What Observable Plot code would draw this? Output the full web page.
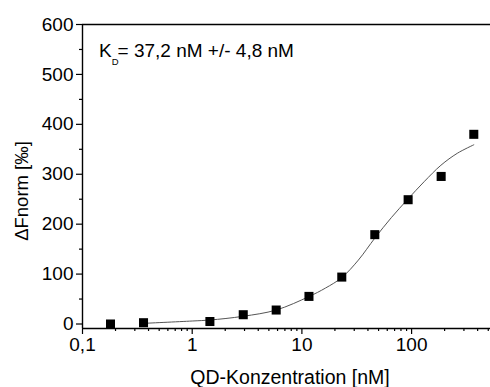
<!DOCTYPE html>
<html>
<head>
<meta charset="utf-8">
<script src="https://cdn.jsdelivr.net/npm/d3@7"></script>
<script src="https://cdn.jsdelivr.net/npm/@observablehq/plot@0.6"></script>
<style>
  html, body { margin: 0; padding: 0; background: #fff; }
  #chart svg { display: block; }
</style>
</head>
<body>
<div id="chart"></div>
<script>
// Measured data (concentration in nM, ΔFnorm in ‰)
const concentration = [0.18, 0.36, 1.45, 2.92, 5.83, 11.6, 23.1, 46.2, 93, 186, 369];
const deltaFnorm    = [0, 2.6, 5, 18.6, 28, 55.3, 94, 179, 249, 295.6, 380];

// Fit curve
const fitX = [0.36, 1, 1.45, 2.92, 5.83, 11.6, 16.4, 23.1, 32.7, 46.2, 65.3, 92.3, 130, 185, 261, 369];
const fitY = [1.3, 6, 8, 15.5, 28, 55, 72, 93, 128, 172, 213, 250, 285, 318, 342, 359];

// Axes
const xDomain = [0.1, 524];
const yDomain = [-9, 600];
const xMajorTicks = [0.1, 1, 10, 100];
const xMinorTicks = [0.2, 0.3, 0.4, 0.5, 0.6, 0.7, 0.8, 0.9, 2, 3, 4, 5, 6, 7, 8, 9, 20, 30, 40, 50, 60, 70, 80, 90, 200, 300, 400, 500];
const yMajorTicks = [0, 100, 200, 300, 400, 500, 600];
const yMinorTicks = [50, 150, 250, 350, 450, 550];

const xLabel = "QD-Konzentration [nM]";
const yLabel = "ΔFnorm [‰]";
const kdMain = "K";
const kdSub = "D";
const kdRest = "= 37,2 nM +/- 4,8 nM";

const points = concentration.map((x, i) => ({x, y: deltaFnorm[i]}));
const fit = fitX.map((x, i) => ({x, y: fitY[i]}));

const FONT = "'Liberation Sans', Arial, sans-serif";
const fmt = d => String(d).replace(".", ",");

const plot = Plot.plot({
  width: 490,
  height: 387,
  marginLeft: 82,
  marginRight: 0,
  marginTop: 24,
  marginBottom: 59,
  style: {fontFamily: FONT, fontSize: "19px", color: "#000", background: "#fff"},
  x: {type: "log", domain: xDomain, range: [82, 490]},
  y: {domain: yDomain},
  marks: [
    Plot.axisX(xMinorTicks, {tickSize: 3, tickFormat: () => "", strokeWidth: 1.2, label: null}),
    Plot.axisX(xMajorTicks, {tickSize: 6, tickPadding: 3, tickFormat: fmt, strokeWidth: 1.2, label: null, fontSize: 19}),
    Plot.axisY(yMinorTicks, {tickSize: 3, tickFormat: () => "", strokeWidth: 1.2, label: null}),
    Plot.axisY(yMajorTicks, {tickSize: 6, tickPadding: 3, tickFormat: fmt, strokeWidth: 1.2, label: null, fontSize: 19}),
    Plot.ruleY([yDomain[1]], {stroke: "#000", strokeWidth: 1.4}),
    Plot.ruleY([yDomain[0]], {stroke: "#000", strokeWidth: 1.4}),
    Plot.ruleX([xDomain[0]], {stroke: "#000", strokeWidth: 1.4}),
    Plot.line(fit, {x: "x", y: "y", curve: "catmull-rom", stroke: "#555", strokeWidth: 1}),
    Plot.dot(points, {x: "x", y: "y", symbol: "square", r: 5.1, fill: "#000", stroke: "none"})
  ]
});

const svg = d3.select(plot);
// Axis titles
svg.append("text")
  .attr("x", 290).attr("y", 384)
  .attr("text-anchor", "middle")
  .attr("font-family", FONT).attr("font-size", 19.5).attr("fill", "#000")
  .text(xLabel);
svg.append("text")
  .attr("transform", "translate(28,191) rotate(-90)")
  .attr("text-anchor", "middle")
  .attr("font-family", FONT).attr("font-size", 18.5).attr("fill", "#000")
  .text(yLabel);
// KD annotation
const kd = svg.append("text")
  .attr("x", 99).attr("y", 56.5)
  .attr("text-anchor", "start")
  .attr("font-family", FONT).attr("font-size", 19).attr("fill", "#000");
kd.append("tspan").text(kdMain);
kd.append("tspan").attr("font-size", 9.5).attr("dy", 8).text(kdSub);
kd.append("tspan").attr("dy", -8).attr("dx", -1).text(kdRest);

document.getElementById("chart").appendChild(plot);
</script>
</body>
</html>
